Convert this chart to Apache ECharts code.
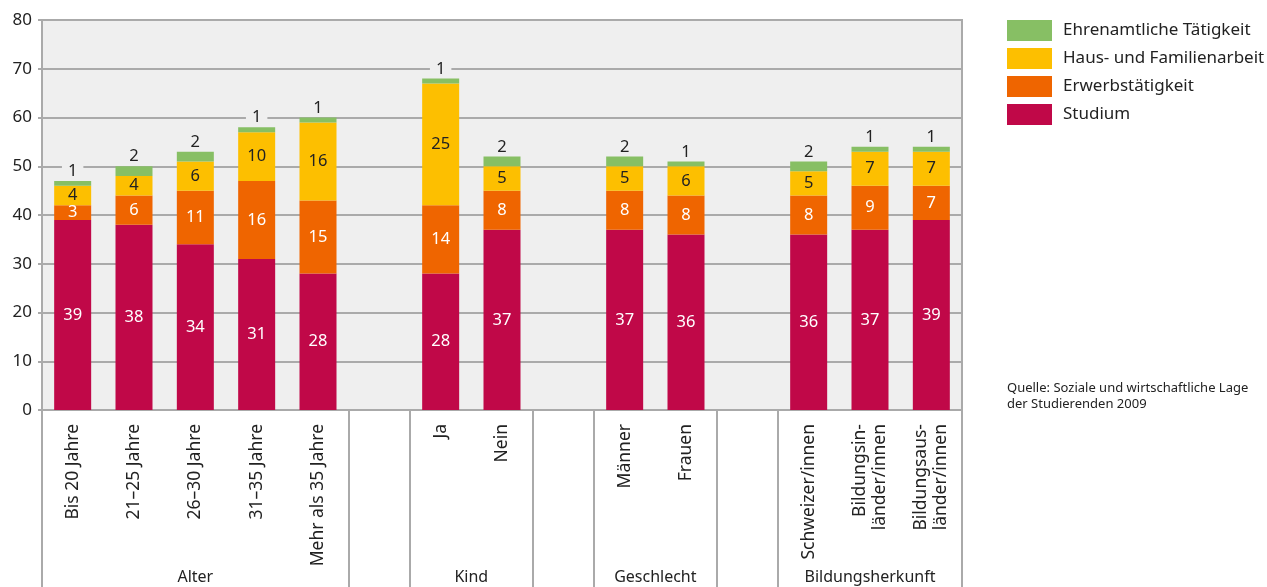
<!DOCTYPE html>
<html>
<head>
<meta charset="utf-8">
<script src="https://cdn.jsdelivr.net/npm/echarts@6/dist/echarts.min.js"></script>
<style>
  html, body { margin: 0; padding: 0; background: #fff; }
  #chart { width: 1267px; height: 587px; }
</style>
</head>
<body>
<div id="chart"></div>
<script>
// categories, '' = empty slot between groups
var categories = ['Bis 20 Jahre', '21–25 Jahre', '26–30 Jahre', '31–35 Jahre', 'Mehr als 35 Jahre', '',
  'Ja', 'Nein', '', 'Männer', 'Frauen', '', 'Schweizer/innen', 'Bildungsin-\nländer/innen', 'Bildungsaus-\nländer/innen'];
var studium  = [39, 38, 34, 31, 28, '-', 28, 37, '-', 37, 36, '-', 36, 37, 39];
var erwerb   = [3, 6, 11, 16, 15, '-', 14, 8, '-', 8, 8, '-', 8, 9, 7];
var haus     = [4, 4, 6, 10, 16, '-', 25, 5, '-', 5, 6, '-', 5, 7, 7];
var ehrenamt = [1, 2, 2, 1, 1, '-', 1, 2, '-', 2, 1, '-', 2, 1, 1];
var groupNames = ['Alter', 'Kind', 'Geschlecht', 'Bildungsherkunft'];
var groupCenters = [2.5, 7, 10, 13.5];
var groupBounds = [0, 5, 6, 8, 9, 11, 12, 15];

var font = 'Noto Sans';
var chart = echarts.init(document.getElementById('chart'));

function bar(name, data, color, labelColor, pos) {
  return {
    name: name,
    type: 'bar',
    stack: 'total',
    data: data,
    barWidth: 37,
    itemStyle: { color: color },
    label: {
      show: true,
      position: pos,
      color: labelColor,
      fontFamily: font,
      fontSize: 16.5,
      distance: 1,
      backgroundColor: pos === 'top' ? '#efefef' : 'transparent',
      padding: pos === 'top' ? [0, 6] : 0
    }
  };
}

chart.setOption({
  animation: false,
  textStyle: { fontFamily: font },
  grid: {
    left: 42, right: 305, top: 20, bottom: 177,
    show: true, backgroundColor: '#efefef', borderColor: '#aaaaaa', borderWidth: 2
  },
  legend: {
    orient: 'vertical',
    left: 1007, top: 20,
    padding: 0,
    itemWidth: 45, itemHeight: 21, itemGap: 7,
    icon: 'rect',
    data: ['Ehrenamtliche Tätigkeit', 'Haus- und Familienarbeit', 'Erwerbstätigkeit', 'Studium'],
    textStyle: { fontFamily: font, fontSize: 17, color: '#222', padding: [0, 0, 0, 6] }
  },
  xAxis: [
    {
      type: 'category',
      data: categories,
      axisLine: { lineStyle: { color: '#aaaaaa', width: 2 } },
      axisTick: { show: false },
      axisLabel: {
        rotate: 90, interval: 0, margin: 14,
        fontFamily: font, fontSize: 17.5, color: '#222', lineHeight: 20
      }
    },
    {
      type: 'value',
      position: 'bottom',
      min: 0, max: 15,
      axisLine: { show: false },
      splitLine: { show: false },
      axisTick: {
        show: true, inside: false, length: 177,
        customValues: groupBounds,
        lineStyle: { color: '#aaaaaa', width: 2 }
      },
      axisLabel: {
        show: true, margin: 159,
        customValues: groupCenters,
        fontFamily: font, fontSize: 16, color: '#222',
        formatter: function (v) {
          var i = groupCenters.indexOf(v);
          return i >= 0 ? groupNames[i] : '';
        }
      }
    }
  ],
  yAxis: {
    type: 'value',
    min: 0, max: 80, interval: 10,
    axisLine: { show: true, lineStyle: { color: '#aaaaaa', width: 2 } },
    axisTick: { show: true, length: 4, lineStyle: { color: '#aaaaaa', width: 2 } },
    splitLine: { lineStyle: { color: '#aaaaaa', width: 2 } },
    axisLabel: { fontFamily: font, fontSize: 17, color: '#222', margin: 10 }
  },
  series: [
    bar('Studium', studium, '#c00848', '#fff', 'inside'),
    bar('Erwerbstätigkeit', erwerb, '#ef6500', '#fff', 'inside'),
    bar('Haus- und Familienarbeit', haus, '#fdbf00', '#222', 'inside'),
    bar('Ehrenamtliche Tätigkeit', ehrenamt, '#87bf64', '#222', 'top')
  ],
  graphic: [{
    type: 'text',
    left: 1007, top: 380,
    style: {
      text: 'Quelle: Soziale und wirtschaftliche Lage\nder Studierenden 2009',
      font: '13px "Noto Sans"',
      fill: '#222',
      lineHeight: 16
    }
  }]
});
</script>
</body>
</html>
